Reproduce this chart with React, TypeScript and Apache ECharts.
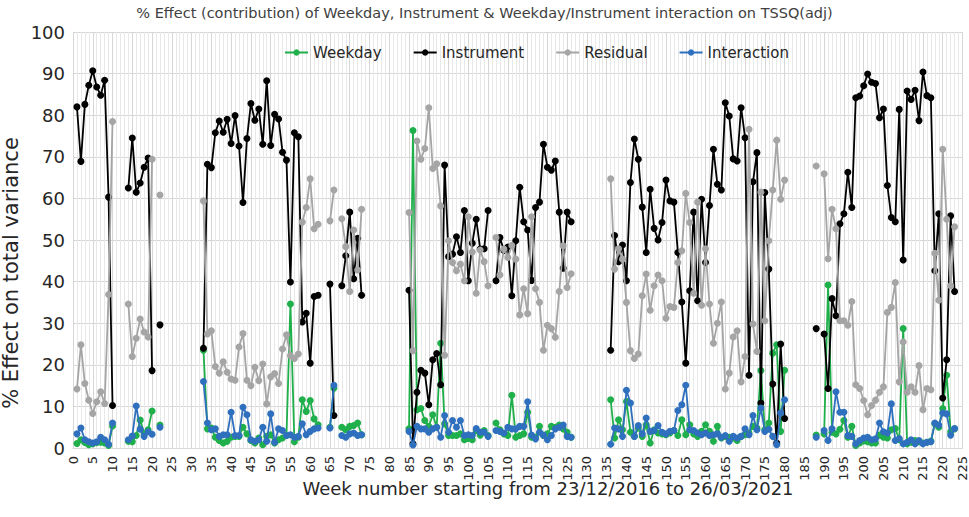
import React, { useEffect, useRef } from "react";
import * as echarts from "echarts";

const TITLE =
  "% Effect (contribution) of Weekday, Instrument & Weekday/Instrument interaction on TSSQ(adj)";
const Y_TITLE = "% Effect on total variance";
const X_TITLE = "Week number starting from 23/12/2016 to 26/03/2021";
const SERIES_NAMES = ["Weekday", "Instrument", "Residual", "Interaction"];
const SERIES_COLORS = ["#1FAF4B", "#000000", "#A5A5A5", "#2F70BE"];

// first week of each run of consecutive weeks that has data
const segmentStarts = [1, 14, 22, 33, 65, 68, 85, 107, 136, 188, 190];

const weekday = [
  [1.1, 2.0, 1.3, 0.8, 1.0, 1.3, 1.4, 1.2, 0.6, 5.3],
  [1.6, 1.5, 3.0, 6.7, 3.5, 4.4, 8.9],
  [5.5],
  [23.5, 4.6, 4.8, 2.6, 1.8, 1.2, 1.6, 2.6, 2.8, 2.8, 5.0, 3.4, 1.8, 1.2, 2.4, 0.8, 2.8, 3.2, 1.2, 2.0, 2.4, 3.0, 34.6, 1.5, 2.6, 11.6, 8.8, 11.4, 7.0, 5.6],
  [5.0, 14.4],
  [5.0, 4.4, 5.2, 5.4, 6.0, 3.2],
  [4.6, 76.3, 9.2, 9.5, 6.6, 5.2, 8.0, 5.0, 25.2, 5.8, 3.0, 3.0, 3.0, 3.4, 2.0, 2.3, 2.0, 4.2, 3.1, 4.2, 3.0],
  [6.0, 4.4, 3.4, 3.0, 12.7, 2.6, 3.0, 3.4, 8.6, 2.6, 2.6, 5.2, 3.0, 3.4, 5.2, 5.0, 5.5, 4.6, 3.8, 2.6],
  [11.6, 2.4, 6.8, 4.4, 11.2, 3.8, 2.8, 4.8, 2.8, 5.6, 1.2, 4.4, 3.6, 3.4, 3.2, 3.6, 4.2, 3.0, 6.8, 3.2, 5.6, 3.4, 2.8, 4.0, 5.6, 4.0, 1.6, 5.2, 2.4, 2.8, 2.6, 2.4, 1.8, 2.8, 3.2, 3.6, 5.2, 4.8, 18.6, 4.4, 6.0, 22.8, 24.8, 4.0, 18.7],
  [3.1],
  [3.4, 39.2, 3.8, 3.4, 4.5, 6.6, 2.6, 5.2, 0.6, 1.2, 1.7, 1.5, 1.2, 1.2, 3.1, 2.6, 2.4, 4.4, 4.7, 2.0, 28.7, 1.0, 1.4, 1.8, 1.5, 1.2, 1.4, 1.7, 5.8, 5.0, 9.5, 17.5, 3.9, 4.6],
];

const instrument = [
  [82.0, 68.9, 82.6, 87.2, 90.7, 86.8, 84.8, 88.4, 60.3, 10.2],
  [62.5, 74.5, 61.5, 63.7, 67.5, 69.7, 18.6],
  [29.6],
  [24.0, 68.2, 67.4, 75.8, 78.6, 75.9, 79.0, 73.2, 79.9, 72.6, 59.0, 74.4, 82.8, 78.8, 81.5, 73.0, 88.3, 72.7, 80.2, 79.1, 71.1, 69.2, 39.9, 75.8, 74.8, 30.3, 32.4, 20.4, 36.4, 36.7],
  [39.4, 7.8],
  [39.0, 46.2, 56.7, 40.7, 50.4, 36.7],
  [37.9, 1.0, 13.4, 18.7, 18.0, 10.4, 21.2, 22.7, 15.2, 68.0, 46.0, 46.6, 50.8, 47.0, 57.1, 40.2, 49.2, 55.0, 47.8, 47.9, 57.1],
  [40.2, 50.6, 47.5, 48.3, 36.6, 49.8, 62.7, 54.4, 52.4, 40.3, 57.8, 59.1, 73.0, 67.5, 66.8, 69.0, 56.7, 43.2, 56.7, 54.4],
  [23.5, 51.1, 44.8, 48.8, 40.2, 63.8, 74.3, 69.4, 57.9, 47.0, 62.2, 52.8, 50.0, 54.2, 64.4, 59.4, 59.1, 47.0, 35.1, 20.4, 37.8, 56.7, 35.4, 59.8, 44.6, 58.3, 71.8, 63.4, 62.0, 83.0, 79.8, 69.5, 69.0, 81.8, 74.6, 17.5, 64.0, 71.0, 10.8, 61.4, 43.0, 15.4, 1.2, 25.0, 7.1],
  [28.7],
  [27.4, 14.3, 35.9, 31.8, 53.9, 56.3, 66.3, 57.8, 84.2, 84.6, 87.1, 89.9, 87.9, 87.6, 79.4, 81.5, 63.1, 55.4, 54.4, 81.4, 45.2, 85.8, 83.8, 86.0, 78.7, 90.4, 84.7, 84.2, 42.6, 56.3, 12.0, 21.2, 55.8, 37.6],
];

const residual = [
  [14.2, 24.8, 15.5, 11.5, 8.3, 11.1, 13.5, 10.7, 36.9, 78.5],
  [34.6, 22.0, 26.4, 31.0, 27.9, 26.7, 69.4],
  [60.8],
  [59.4, 27.4, 28.2, 19.6, 18.0, 20.7, 18.2, 16.6, 16.3, 24.3, 27.5, 16.3, 15.0, 19.4, 16.2, 20.2, 10.6, 17.1, 17.9, 15.5, 23.8, 27.2, 22.2, 21.5, 22.6, 54.3, 57.8, 64.7, 52.7, 53.8],
  [54.6, 62.0],
  [55.1, 48.4, 37.6, 52.4, 42.8, 57.4],
  [56.6, 23.4, 73.8, 69.4, 72.0, 81.8, 67.2, 68.3, 58.2, 22.3, 49.8, 44.6, 42.6, 44.2, 40.2, 55.6, 47.1, 37.2, 47.6, 44.8, 39.0],
  [50.6, 41.6, 47.8, 45.8, 48.7, 45.4, 32.0, 38.3, 32.3, 55.6, 38.3, 35.0, 23.5, 29.5, 28.7, 26.6, 37.6, 48.6, 38.6, 41.9],
  [64.7, 43.0, 47.9, 45.4, 35.0, 23.4, 21.5, 22.6, 36.6, 41.8, 33.1, 39.0, 41.6, 40.2, 31.2, 34.0, 33.8, 44.6, 47.4, 61.2, 54.2, 37.2, 59.1, 34.3, 47.9, 34.6, 25.2, 30.0, 35.1, 14.2, 18.0, 26.7, 28.2, 15.9, 22.0, 76.6, 29.8, 23.2, 61.5, 30.6, 49.8, 62.0, 74.0, 59.8, 64.4],
  [67.8],
  [65.9, 45.5, 57.4, 52.7, 30.6, 30.6, 29.5, 35.2, 15.2, 14.3, 11.4, 8.0, 10.2, 11.5, 13.4, 14.7, 32.6, 33.8, 39.8, 15.9, 25.5, 13.4, 14.7, 13.4, 19.8, 9.2, 14.3, 14.0, 46.8, 35.5, 71.8, 55.0, 39.0, 53.2],
];

const interaction = [
  [3.4, 4.8, 2.0, 1.5, 1.2, 1.5, 2.6, 2.0, 0.9, 6.0],
  [2.0, 2.9, 10.1, 4.5, 2.8, 3.9, 3.3],
  [5.0],
  [16.0, 6.0, 4.4, 4.6, 2.8, 3.2, 3.2, 8.6, 3.0, 3.0, 9.8, 8.0, 2.0, 1.6, 2.0, 5.0, 1.6, 8.2, 1.4, 4.6, 4.2, 3.0, 3.2, 2.6, 2.8, 5.8, 3.2, 4.0, 4.6, 4.8],
  [4.8, 15.1],
  [3.0, 2.6, 3.4, 3.6, 3.0, 3.2],
  [4.0, 0.7, 5.2, 4.6, 4.6, 3.8, 4.6, 5.0, 2.6, 7.8, 3.8, 6.6, 5.0, 6.6, 3.0, 3.2, 3.0, 4.7, 3.8, 3.8, 2.8],
  [4.2, 4.0, 3.6, 5.0, 4.6, 4.6, 5.2, 5.2, 11.1, 3.1, 2.2, 3.8, 3.1, 2.0, 3.0, 4.6, 5.0, 5.5, 2.8, 2.6],
  [0.9, 4.8, 4.6, 2.8, 13.9, 10.8, 2.8, 5.4, 3.4, 7.2, 4.0, 4.2, 5.4, 3.8, 3.4, 4.0, 4.2, 9.0, 10.4, 15.1, 4.4, 4.2, 3.6, 3.2, 3.6, 3.0, 3.2, 3.4, 2.6, 3.0, 1.6, 2.8, 2.4, 2.8, 4.6, 3.2, 7.8, 4.4, 9.6, 4.0, 4.5, 2.8, 0.8, 8.4, 11.6],
  [2.6],
  [4.2, 1.8, 4.6, 13.5, 8.6, 8.6, 3.0, 2.8, 1.0, 1.8, 2.4, 2.6, 2.0, 2.2, 6.0, 3.9, 3.6, 10.6, 1.8, 2.3, 1.0, 1.4, 2.0, 1.0, 1.8, 1.0, 1.4, 1.5, 6.0, 5.5, 8.4, 8.2, 3.1, 4.7],
];

const X_MIN = 0;
const X_MAX = 225;

function buildData(segments: number[][]) {
  const byWeek = new Map<number, number>();
  segments.forEach((seg, i) => {
    seg.forEach((v, j) => byWeek.set(segmentStarts[i] + j, v));
  });
  const out: any[] = [];
  for (let w = X_MIN; w <= X_MAX; w++) {
    out.push([w, byWeek.has(w) ? byWeek.get(w) : "-"]);
  }
  return out;
}

const FONT = "'DejaVu Sans', Verdana, sans-serif";

export default function App() {
  const ref = useRef<HTMLDivElement>(null);

  useEffect(() => {
    if (!ref.current) return;
    const chart = echarts.init(ref.current, undefined, { renderer: "svg" });
    const allSeries = [weekday, instrument, residual, interaction];

    chart.setOption({
      animation: false,
      backgroundColor: "#ffffff",
      textStyle: { fontFamily: FONT },
      title: {
        text: TITLE,
        left: "center",
        top: 0,
        textStyle: { fontSize: 14.5, fontWeight: "normal", color: "#404040", fontFamily: FONT },
      },
      legend: {
        left: 284,
        top: 45,
        padding: 0,
        itemWidth: 23,
        itemHeight: 8,
        itemGap: 31,
        textStyle: { fontSize: 15, color: "#262626", fontFamily: FONT },
        data: SERIES_NAMES,
      },
      grid: { left: 73, right: 6, top: 32, bottom: 69, containLabel: false },
      xAxis: {
        type: "value",
        min: X_MIN,
        max: X_MAX,
        interval: 5,
        axisLine: { show: true, lineStyle: { color: "#d9d9d9" } },
        axisTick: { show: false },
        axisLabel: { rotate: 90, fontSize: 13, color: "#262626", margin: 8, fontFamily: FONT },
        splitLine: { show: true, lineStyle: { color: "#d6d6d6", width: 1 } },
        minorTick: { show: false, splitNumber: 5 },
        minorSplitLine: { show: true, lineStyle: { color: "#e8e8e8", width: 1 } },
      },
      yAxis: {
        type: "value",
        min: 0,
        max: 100,
        interval: 10,
        axisLine: { show: false },
        axisTick: { show: false },
        axisLabel: { fontSize: 18, color: "#262626", margin: 8, fontFamily: FONT },
        splitLine: { show: true, lineStyle: { color: "#d6d6d6", width: 1 } },
      },
      graphic: [
        {
          type: "text",
          x: 11,
          y: 273,
          rotation: Math.PI / 2,
          style: {
            text: Y_TITLE,
            fontSize: 21,
            fontFamily: FONT,
            fill: "#262626",
            align: "center",
            verticalAlign: "middle",
          },
        },
        {
          type: "text",
          x: 548,
          y: 488,
          style: {
            text: X_TITLE,
            fontSize: 18,
            fontFamily: FONT,
            fill: "#262626",
            align: "center",
            verticalAlign: "middle",
          },
        },
      ],
      series: SERIES_NAMES.map((name, i) => ({
        name,
        type: "line",
        data: buildData(allSeries[i]),
        connectNulls: false,
        showSymbol: true,
        showAllSymbol: true,
        symbol: "circle",
        symbolSize: 7,
        color: SERIES_COLORS[i],
        itemStyle: { color: SERIES_COLORS[i] },
        lineStyle: { color: SERIES_COLORS[i], width: 1.8 },
        emphasis: { disabled: true },
        z: 2 + i,
      })),
    });

    return () => chart.dispose();
  }, []);

  return (
    <div
      ref={ref}
      style={{ position: "fixed", left: 0, top: 0, width: 969, height: 517, background: "#fff" }}
    />
  );
}
